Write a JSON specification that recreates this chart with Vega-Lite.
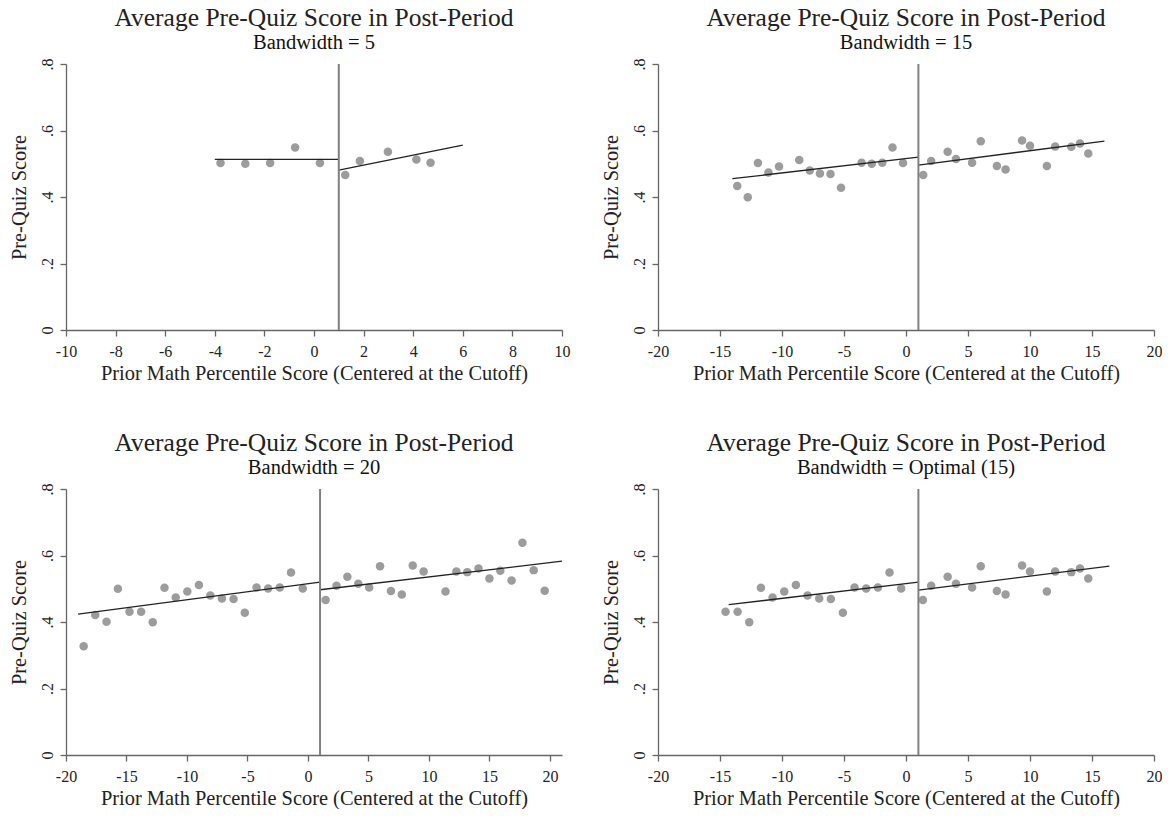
{
  "$schema": "https://vega.github.io/schema/vega-lite/v6.json",
  "background": "white",
  "padding": {"left": 9, "top": 6, "right": 0, "bottom": 0},
  "datasets": {
    "p1": [
      {"x": -3.77, "y": 0.502}, {"x": -2.77, "y": 0.500}, {"x": -1.77, "y": 0.502}, {"x": -0.76, "y": 0.549}, {"x": 0.24, "y": 0.502},
      {"x": 1.26, "y": 0.466}, {"x": 1.85, "y": 0.508}, {"x": 2.98, "y": 0.536}, {"x": 4.13, "y": 0.513}, {"x": 4.70, "y": 0.503}
    ],
    "f1": [
      {"side": "L", "x": -4, "y": 0.513}, {"side": "L", "x": 1, "y": 0.513},
      {"side": "R", "x": 1, "y": 0.481}, {"side": "R", "x": 6, "y": 0.556}
    ],
    "p2": [
      {"x": -13.61, "y": 0.433}, {"x": -12.76, "y": 0.399}, {"x": -11.94, "y": 0.502}, {"x": -11.09, "y": 0.474}, {"x": -10.24, "y": 0.492},
      {"x": -8.61, "y": 0.511}, {"x": -7.76, "y": 0.480}, {"x": -6.94, "y": 0.471}, {"x": -6.09, "y": 0.469}, {"x": -5.24, "y": 0.428},
      {"x": -3.58, "y": 0.503}, {"x": -2.76, "y": 0.500}, {"x": -1.91, "y": 0.503}, {"x": -1.09, "y": 0.549}, {"x": -0.24, "y": 0.502},
      {"x": 1.39, "y": 0.466}, {"x": 2.03, "y": 0.508}, {"x": 3.36, "y": 0.536}, {"x": 4.03, "y": 0.514}, {"x": 5.33, "y": 0.503},
      {"x": 6.03, "y": 0.568}, {"x": 7.33, "y": 0.493}, {"x": 8.03, "y": 0.483}, {"x": 9.36, "y": 0.570}, {"x": 10.0, "y": 0.554},
      {"x": 11.36, "y": 0.493}, {"x": 12.03, "y": 0.552}, {"x": 13.33, "y": 0.551}, {"x": 14.03, "y": 0.561}, {"x": 14.70, "y": 0.531}
    ],
    "f2": [
      {"side": "L", "x": -14, "y": 0.455}, {"side": "L", "x": 1, "y": 0.520},
      {"side": "R", "x": 1, "y": 0.496}, {"side": "R", "x": 16, "y": 0.568}
    ],
    "p3": [
      {"x": -18.54, "y": 0.327}, {"x": -17.58, "y": 0.421}, {"x": -16.65, "y": 0.401}, {"x": -15.71, "y": 0.500}, {"x": -14.75, "y": 0.431},
      {"x": -13.79, "y": 0.431}, {"x": -12.83, "y": 0.399}, {"x": -11.86, "y": 0.503}, {"x": -10.93, "y": 0.474}, {"x": -9.97, "y": 0.492},
      {"x": -9.01, "y": 0.511}, {"x": -8.07, "y": 0.480}, {"x": -7.11, "y": 0.471}, {"x": -6.15, "y": 0.469}, {"x": -5.22, "y": 0.428},
      {"x": -4.25, "y": 0.504}, {"x": -3.29, "y": 0.501}, {"x": -2.33, "y": 0.504}, {"x": -1.40, "y": 0.549}, {"x": -0.43, "y": 0.501},
      {"x": 1.46, "y": 0.466}, {"x": 2.36, "y": 0.509}, {"x": 3.26, "y": 0.536}, {"x": 4.16, "y": 0.515}, {"x": 5.06, "y": 0.504},
      {"x": 5.96, "y": 0.568}, {"x": 6.86, "y": 0.493}, {"x": 7.76, "y": 0.483}, {"x": 8.66, "y": 0.570}, {"x": 9.56, "y": 0.552},
      {"x": 11.37, "y": 0.492}, {"x": 12.27, "y": 0.552}, {"x": 13.17, "y": 0.550}, {"x": 14.10, "y": 0.561}, {"x": 15.0, "y": 0.531},
      {"x": 15.90, "y": 0.554}, {"x": 16.83, "y": 0.525}, {"x": 17.73, "y": 0.638}, {"x": 18.66, "y": 0.556}, {"x": 19.57, "y": 0.494}
    ],
    "f3": [
      {"side": "L", "x": -19, "y": 0.424}, {"side": "L", "x": 1, "y": 0.520},
      {"side": "R", "x": 1, "y": 0.497}, {"side": "R", "x": 21, "y": 0.583}
    ],
    "p4": [
      {"x": -14.55, "y": 0.431}, {"x": -13.58, "y": 0.431}, {"x": -12.64, "y": 0.399}, {"x": -11.70, "y": 0.503}, {"x": -10.76, "y": 0.474},
      {"x": -9.82, "y": 0.492}, {"x": -8.88, "y": 0.511}, {"x": -7.94, "y": 0.480}, {"x": -7.0, "y": 0.471}, {"x": -6.06, "y": 0.469},
      {"x": -5.09, "y": 0.428}, {"x": -4.15, "y": 0.504}, {"x": -3.21, "y": 0.501}, {"x": -2.27, "y": 0.504}, {"x": -1.33, "y": 0.549},
      {"x": -0.39, "y": 0.501}, {"x": 1.36, "y": 0.466}, {"x": 2.03, "y": 0.509}, {"x": 3.36, "y": 0.536}, {"x": 4.03, "y": 0.515},
      {"x": 5.33, "y": 0.504}, {"x": 6.03, "y": 0.568}, {"x": 7.33, "y": 0.493}, {"x": 8.03, "y": 0.483}, {"x": 9.36, "y": 0.570},
      {"x": 10.0, "y": 0.552}, {"x": 11.36, "y": 0.492}, {"x": 12.03, "y": 0.552}, {"x": 13.33, "y": 0.550}, {"x": 14.03, "y": 0.561},
      {"x": 14.70, "y": 0.531}
    ],
    "f4": [
      {"side": "L", "x": -14.3, "y": 0.452}, {"side": "L", "x": 1, "y": 0.520},
      {"side": "R", "x": 1, "y": 0.496}, {"side": "R", "x": 16.4, "y": 0.568}
    ]
  },
  "columns": 2,
  "spacing": {"column": 96, "row": 159},
  "bounds": "flush",
  "concat": [
    {
      "width": 496, "height": 266,
      "title": {"text": "Average Pre-Quiz Score in Post-Period", "subtitle": "Bandwidth = 5"},
      "layer": [
        {"data": {"name": "p1"}, "mark": {"type": "circle", "size": 72, "color": "#9c9c9c", "opacity": 1},
         "encoding": {
           "x": {"field": "x", "type": "quantitative", "scale": {"domain": [-10, 10], "nice": false}, "axis": {"values": [-10, -8, -6, -4, -2, 0, 2, 4, 6, 8, 10], "title": "Prior Math Percentile Score (Centered at the Cutoff)", "labelExpr": "'' + datum.value"}},
           "y": {"field": "y", "type": "quantitative", "scale": {"domain": [0, 0.8], "nice": false}, "axis": {"values": [0, 0.2, 0.4, 0.6, 0.8], "title": "Pre-Quiz Score", "labelExpr": "datum.value == 0 ? '0' : replace(format(datum.value, '.1f'), '0.', '.')"}}
         }},
        {"data": {"name": "f1"}, "mark": {"type": "line", "color": "#222222", "strokeWidth": 1.3},
         "encoding": {"x": {"field": "x", "type": "quantitative"}, "y": {"field": "y", "type": "quantitative"}, "detail": {"field": "side"}}},
        {"data": {"values": [{}]}, "mark": {"type": "rule", "color": "#808080", "strokeWidth": 2},
         "encoding": {"x": {"datum": 1}, "y": {"datum": 0}, "y2": {"datum": 0.8}}}
      ]
    },
    {
      "width": 496, "height": 266,
      "title": {"text": "Average Pre-Quiz Score in Post-Period", "subtitle": "Bandwidth = 15"},
      "layer": [
        {"data": {"name": "p2"}, "mark": {"type": "circle", "size": 72, "color": "#9c9c9c", "opacity": 1},
         "encoding": {
           "x": {"field": "x", "type": "quantitative", "scale": {"domain": [-20, 20], "nice": false}, "axis": {"values": [-20, -15, -10, -5, 0, 5, 10, 15, 20], "title": "Prior Math Percentile Score (Centered at the Cutoff)", "labelExpr": "'' + datum.value"}},
           "y": {"field": "y", "type": "quantitative", "scale": {"domain": [0, 0.8], "nice": false}, "axis": {"values": [0, 0.2, 0.4, 0.6, 0.8], "title": "Pre-Quiz Score", "labelExpr": "datum.value == 0 ? '0' : replace(format(datum.value, '.1f'), '0.', '.')"}}
         }},
        {"data": {"name": "f2"}, "mark": {"type": "line", "color": "#222222", "strokeWidth": 1.3},
         "encoding": {"x": {"field": "x", "type": "quantitative"}, "y": {"field": "y", "type": "quantitative"}, "detail": {"field": "side"}}},
        {"data": {"values": [{}]}, "mark": {"type": "rule", "color": "#808080", "strokeWidth": 2},
         "encoding": {"x": {"datum": 1}, "y": {"datum": 0}, "y2": {"datum": 0.8}}}
      ]
    },
    {
      "width": 496, "height": 266,
      "title": {"text": "Average Pre-Quiz Score in Post-Period", "subtitle": "Bandwidth = 20"},
      "layer": [
        {"data": {"name": "p3"}, "mark": {"type": "circle", "size": 72, "color": "#9c9c9c", "opacity": 1},
         "encoding": {
           "x": {"field": "x", "type": "quantitative", "scale": {"domain": [-20, 21], "nice": false}, "axis": {"values": [-20, -15, -10, -5, 0, 5, 10, 15, 20], "title": "Prior Math Percentile Score (Centered at the Cutoff)", "labelExpr": "'' + datum.value"}},
           "y": {"field": "y", "type": "quantitative", "scale": {"domain": [0, 0.8], "nice": false}, "axis": {"values": [0, 0.2, 0.4, 0.6, 0.8], "title": "Pre-Quiz Score", "labelExpr": "datum.value == 0 ? '0' : replace(format(datum.value, '.1f'), '0.', '.')"}}
         }},
        {"data": {"name": "f3"}, "mark": {"type": "line", "color": "#222222", "strokeWidth": 1.3},
         "encoding": {"x": {"field": "x", "type": "quantitative"}, "y": {"field": "y", "type": "quantitative"}, "detail": {"field": "side"}}},
        {"data": {"values": [{}]}, "mark": {"type": "rule", "color": "#808080", "strokeWidth": 2},
         "encoding": {"x": {"datum": 1}, "y": {"datum": 0}, "y2": {"datum": 0.8}}}
      ]
    },
    {
      "width": 496, "height": 266,
      "title": {"text": "Average Pre-Quiz Score in Post-Period", "subtitle": "Bandwidth = Optimal (15)"},
      "layer": [
        {"data": {"name": "p4"}, "mark": {"type": "circle", "size": 72, "color": "#9c9c9c", "opacity": 1},
         "encoding": {
           "x": {"field": "x", "type": "quantitative", "scale": {"domain": [-20, 20], "nice": false}, "axis": {"values": [-20, -15, -10, -5, 0, 5, 10, 15, 20], "title": "Prior Math Percentile Score (Centered at the Cutoff)", "labelExpr": "'' + datum.value"}},
           "y": {"field": "y", "type": "quantitative", "scale": {"domain": [0, 0.8], "nice": false}, "axis": {"values": [0, 0.2, 0.4, 0.6, 0.8], "title": "Pre-Quiz Score", "labelExpr": "datum.value == 0 ? '0' : replace(format(datum.value, '.1f'), '0.', '.')"}}
         }},
        {"data": {"name": "f4"}, "mark": {"type": "line", "color": "#222222", "strokeWidth": 1.3},
         "encoding": {"x": {"field": "x", "type": "quantitative"}, "y": {"field": "y", "type": "quantitative"}, "detail": {"field": "side"}}},
        {"data": {"values": [{}]}, "mark": {"type": "rule", "color": "#808080", "strokeWidth": 2},
         "encoding": {"x": {"datum": 1}, "y": {"datum": 0}, "y2": {"datum": 0.8}}}
      ]
    }
  ],
  "config": {
    "font": "Liberation Serif",
    "view": {"stroke": null},
    "axis": {
      "grid": false,
      "domainColor": "#666666",
      "domainWidth": 1.3,
      "tickColor": "#666666",
      "tickWidth": 1.3,
      "tickSize": 6,
      "labelFont": "Liberation Serif",
      "labelFontSize": 16,
      "labelColor": "#222222",
      "titleFont": "Liberation Serif",
      "titleFontSize": 20.4,
      "titleFontWeight": "normal",
      "titleColor": "#222222"
    },
    "axisX": {"labelPadding": 7, "titlePadding": 4, "labelFlush": false},
    "axisY": {"labelAngle": -90, "labelPadding": 5, "titlePadding": 10, "labelFlush": false},
    "title": {
      "font": "Liberation Serif",
      "fontSize": 25.5,
      "fontWeight": "normal",
      "color": "#222222",
      "subtitleFont": "Liberation Serif",
      "subtitleFontSize": 20.5,
      "subtitleColor": "#111111",
      "subtitlePadding": 1,
      "anchor": "middle",
      "offset": 5
    }
  }
}
